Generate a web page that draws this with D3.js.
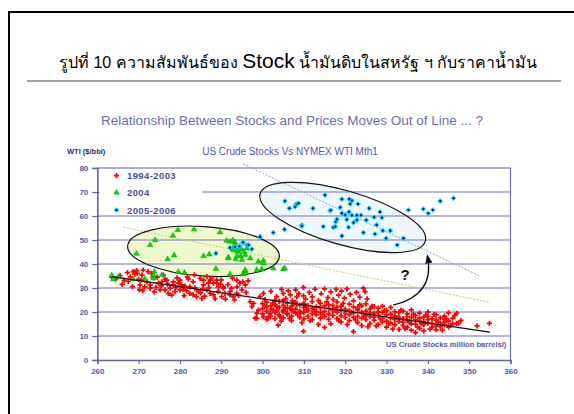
<!DOCTYPE html>
<html>
<head>
<meta charset="utf-8">
<script src="https://cdn.jsdelivr.net/npm/d3@7"></script>
<style>
  body { margin: 0; background: #fff; }
  svg { display: block; }
</style>
</head>
<body>
<script>
// WTI price vs US crude stocks
const red9403 = [
  [263.5,34.5],[264.5,33.8],[265.5,35.2],[266,31.5],[266.5,33.2],[267.3,36.4],[267.5,32.8],[268,34.6],[268.5,30.6],
  [268.7,36.8],[269.1,35.8],[269.5,37.2],[269.7,36.1],[270,33.6],[270.2,29.2],[270.3,31.3],[270.7,33.3],[270.8,35.4],
  [271,28.9],[271.1,37.5],[271.5,30.5],[272,32.6],[272.3,36.8],[272.8,31.3],[272.8,29.9],[273.1,36.1],[273.5,34.3],
  [273.8,28.4],[274.2,30.3],[274.8,32],[275.2,29.2],[275.5,30.9],[275.6,32.6],[276.4,33.6],[276.4,29.2],[276.8,33.3],
  [277,31.6],[277.2,27.8],[277.6,29.9],[278,27],[278.4,31.3],[278.4,32.6],[278.8,28.5],[279,30.2],[279.6,32],[280,29.2],
  [280,33.3],[280.4,31.3],[280.8,29.4],[281,26.8],[281.2,30.8],[281.6,28.8],[282,33.8],[282.4,27.8],[282.4,30.5],
  [283.2,32.6],[283.2,27.1],[283.6,30.1],[284,26.4],[284.1,29.2],[284.5,28.5],[284.9,34],[285,28],[285.3,25.7],
  [285.7,33.3],[285.7,31.3],[286,26.6],[286.5,34.7],[286.5,29.2],[286.9,32],[287.3,27.8],[287.3,33.3],[287.7,34],
  [288.1,32],[288.1,27.1],[288.5,25.6],[288.9,33.3],[288.9,32],[289.3,30.5],[289.3,28.5],[289.8,31.6],[290.1,26.4],
  [290.5,29.9],[290.5,30.5],[290.9,27.8],[291,25.4],[291.6,31.4],[292.1,27.1],[292.1,28.5],[292.5,29.9],[292.9,26.4],
  [293.2,25],[293.75,33.3],[293.75,27.8],[293.8,30.5],[294.2,26.9],[294.5,32],[295,29.2],[295.2,32.6],[295.8,31.3],
  [296,28.2],[296.5,33],[297,24.3],[297.4,22.2],[297.8,23.6],[298.2,17.4],[298.6,19.4],[298.6,17.4],[299,20.8],
  [299.4,26.4],[300.2,18],[300.2,27.8],[300.6,25.2],[301,22.2],[301.4,17.4],[301.8,19.4],[302,28.6],[302.6,20.8],
  [303,24.8],[303.4,22.2],[303.4,26.4],[303.8,14.5],[304.2,18],[304.6,29.4],[305,20.8],[305,27.8],[305.6,25.6],
  [305.9,19.4],[306.2,28.8],[306.7,27.1],[306.7,21.5],[307.2,24.6],[307.5,20.1],[308,29.2],[308.3,23],[308.3,26.4],
  [308.8,27.7],[309.1,19.4],[309.9,23.6],[309.9,26.7],[309.9,30.3],[309.9,11.9],[310.4,25.4],[310.7,21],[311.3,28.2],
  [312,26.3],[312.7,29.5],[313.5,24.7],[314.2,27.6],[315,29.6],[315,13.6],[315.8,26],[316.5,28.4],[317.1,25.2],
  [317.8,29.4],[318.4,27],[319.1,28.7],[319.8,25.8],[320.4,29.6],[321.2,27.4],[322,24.6],[322.7,28.2],[323.5,26.2],
  [324.4,29.9],[324.8,28.5],[325.3,25.5],
  [300,21.4],[300,19.2],[300,23.5],[301,24.1],[301,20.3],[301,16.9],[302,22.6],[302,18.4],[302,21.1],
  [303,19.7],[303,23.2],[303,17.2],[304,21.9],[304,24.4],[304,18.8],[305,22.8],[305,17.6],[305,20.1],[305,24.9],
  [306,19.1],[306,21.6],[306,23.7],[307,18.3],[307,22.4],[307,20.8],[307,16.4],[308,21.2],[308,19.6],[308,24.1],
  [309,17.8],[309,22.9],[309,20.4],[310,23.4],[310,19.8],[310,17.1],[310,21.9],[311,20.6],[311,18.2],[311,22.7],
  [312,24.3],[312,19.3],[312,21.5],[312,16.8],[313,18.9],[313,22.1],[313,20.2],[314,21.8],[314,17.4],[314,23.6],
  [314,19.7],[315,20.3],[315,22.6],[315,18.1],[316,16.9],[316,21.4],[316,19.2],[316,23.1],[317,22.8],[317,18.6],
  [317,20.7],[318,19.9],[318,17.2],[318,21.9],[318,24.2],[319,18.4],[319,20.8],[319,22.4],[319,15.9],[320,21.1],
  [320,19.3],[320,17.7],[321,23.3],[321,18.9],[321,20.6],[321,16.4],[322,19.6],[322,22.1],[322,11.8],[322,17.8],
  [323,20.9],[323,18.2],[323,15.6],[323,21.7],[324,17.4],[324,19.9],[324,22.6],[324,14.3],[325,20.4],[325,16.8],
  [325,18.7],[325,23.4],[326,18.1],[326,21.3],[326,15.2],[326,19.6],[327,16.6],[327,19.4],[327,22.2],[327,17.9],
  [328,20.1],[328,14.8],[328,18.6],[328,21.6],[329,17.3],[329,19.8],[329,15.9],[329,22.4],[330,18.8],[330,16.2],
  [330,20.7],[330,13.7],[331,15.4],[331,19.1],[331,17.6],[331,21.9],[332,18.3],[332,14.6],[332,20.2],[332,16.9],
  [333,16.1],[333,19.7],[333,12.8],[333,17.8],[334,17.2],[334,14.4],[334,20.4],[334,15.8],[335,19.2],[335,16.5],
  [335,13.6],[335,18.1],[336,15.1],[336,17.7],[336,20.9],[336,12.4],[337,18.6],[337,14.9],[337,16.8],[337,11.4],
  [338,16.3],[338,19.5],[338,13.2],[338,17.4],[339,14.7],[339,17.9],[339,12.1],[339,15.9],[340,18.2],[340,15.4],
  [340,16.8],[340,20.1],[341,13.6],[341,17.1],[341,15.2],[342,16.6],[342,14.1],[342,18.8],[342,12.6],[343,15.3],
  [343,17.6],[343,13.9],[344,16.9],[344,14.6],[344,18.3],[344,15.8],[345,13.7],[345,16.2],[345,19.6],[346,17.4],
  [346,15.1],[347,15.3],[347,19.4],[347.4,15.3],[348,16.4],[351.9,14.2],[354.9,15.3],
  [300.5,22.7],[301.5,18.1],[302.5,23.9],[303.5,20.5],[304.5,16.2],[305.5,21.7],[306.5,17.3],[307.5,23.3],
  [308.5,18.9],[309.5,15.6],[310.5,22.4],[311.5,16.4],[312.5,20.9],[313.5,14.8],[314.5,18.8],[315.5,24.2],
  [316.5,15.1],[317.5,21.2],[318.5,16.4],[319.5,23.6],[320.5,14.7],[321.5,19.9],[322.5,16.7],[323.5,23],
  [324.5,18.3],[325.5,13.9],[326.5,22.4],[327.5,14.2],[328.5,17.1],[329.5,20.6],[330.5,15.3],[331.5,12.9],
  [332.5,17.6],[333.5,20.8],[334.5,13.1],[335.5,15.9],[336.5,19.1],[337.5,13.7],[338.5,15.1],[339.5,18.8],
  [340.5,12.9],[341.5,19],[342.5,15.8],[343.5,12.4],[344.5,17.2],[345.5,14.4],[346.5,18.6],[283.5,35.5],
  [281.8,34.6],[279.3,34.2],[276,35.4],[274.5,34.5],[290,33.4],[292.7,34.1],[287,30.2],[285.5,29.6]
];

const green04 = [
  [263.5,35.3],[263.9,33.6],[265.1,34.6],[268.7,33.6],[269.5,44.3],[271.5,33.8],[272.8,47.9],[273.6,35.4],[273.6,34],
  [273.8,36.8],[274,50],[275.6,35.4],[277,42],[278.3,51.8],[278.6,43.6],[279.5,54.2],[279.6,36.7],[281.1,36.4],
  [283.4,54.4],[285.7,43.3],[287.1,44],[288.7,38],[289.7,53.2],[291.3,49.7],[291.7,42.8],[291.7,42.4],[292.1,35.7],
  [292.1,49.3],[292.8,49.9],[292.8,46.2],[293,45.8],[293.3,49],[293.3,47.9],[293.5,42],[293.8,45.6],[293.8,43.3],
  [294.1,45.1],[294.4,47.2],[294.7,43.3],[294.9,46.1],[295,41.7],[295.3,35.7],[295.4,36.1],[295.5,45.1],[295.8,43.8],
  [295.8,36.8],[295.8,37.5],[296.2,46.5],[297,42.4],[298.6,37.5],[299,41],[299.8,37.8],[300.2,41.4],[300.2,40.3],
  [302.6,38.2],[305,37.8],[305.4,38.2]
];

const blue0506 = [
  [288.7,44.4],[292.1,46.8],[293.3,47],[294.3,47.2],[294.4,47.4],[295.2,48.9],[295.3,49],[296.2,47.9],[296.6,47.9],
  [297.4,46.2],[299.4,51.4],[302.6,53.1],[305.3,54.4],[305.4,66.2],[306.5,63.2],[307.9,63.9],[308.1,64.9],[308.3,65],
  [308.7,65.3],[309.5,56.2],[309.5,55.8],[312.2,63.2],[314.7,55.6],[315.1,68.7],[316.3,62.2],[316.5,62.4],[317.1,55.3],
  [317.6,55.6],[317.7,57.6],[318,58.6],[318.8,63.6],[319.2,67],[319.2,61.1],[319.2,51.7],[320,60.4],[320.4,58.5],
  [320.8,55.3],[320.9,61.7],[321,67],[321.2,65],[321.6,66.4],[321.6,60.3],[322,57.2],[322.8,60.3],[322.8,58.3],
  [323.1,65],[323.8,60.3],[324.4,53.1],[325.1,58.3],[325.8,63.2],[327,59.5],[327.2,52.5],[327.6,56.3],[328.4,61.7],
  [328.9,59.3],[329.1,53.9],[329.9,50.7],[330.9,53.9],[332.6,47.9],[334.1,50.7],[335.3,62.5],[338.9,62.9],[340.1,61.1],
  [341.2,62.5],[343,66.2],[346.2,67.4]
];

// straight guide lines (two end points each)
const trendLine = [[263.5, 34.7], [355, 11.6]];
const blueGuide = [[295.3, 81.7], [352.3, 35.2]];
const greenGuide = [[266.3, 55.3], [355, 24]];

const xTicks = [260, 270, 280, 290, 300, 310, 320, 330, 340, 350, 360];
const yTicks = [0, 10, 20, 30, 40, 50, 60, 70, 80];
const gridLevels = [10, 20, 30, 40, 50, 60, 70];
const seriesNames = ['1994-2003', '2004', '2005-2006'];

const W = 574, H = 414;
const svg = d3.select('body').append('svg')
    .attr('width', W)
    .attr('height', H)
    .style('font-family', '"Liberation Sans", Arial, sans-serif');

// page frame
svg.append('rect')
    .attr('x', 9).attr('y', 12)
    .attr('width', 700).attr('height', 600)
    .attr('fill', 'none')
    .attr('stroke', '#000')
    .attr('stroke-width', 2);

// Thai page caption
const cap = svg.append('text')
    .attr('x', 298).attr('y', 68)
    .attr('text-anchor', 'middle')
    .attr('fill', '#000')
    .style('font-family', '"Liberation Sans", "Noto Sans", sans-serif');
cap.append('tspan').attr('font-size', 16).text('รูปที่ 10 ความสัมพันธ์ของ ');
cap.append('tspan').attr('font-size', 21).text('Stock');
cap.append('tspan').attr('font-size', 16).text(' น้ำมันดิบในสหรัฐ ฯ กับราคาน้ำมัน');

svg.append('line')
    .attr('x1', 27).attr('x2', 561)
    .attr('y1', 81).attr('y2', 81)
    .attr('stroke', '#444')
    .attr('stroke-width', 1.2);

svg.append('text')
    .attr('x', 292).attr('y', 125)
    .attr('text-anchor', 'middle')
    .attr('font-size', 13.5)
    .attr('fill', '#6c6cae')
    .text('Relationship Between Stocks and Prices Moves Out of Line ... ?');

svg.append('text')
    .attr('x', 67).attr('y', 154)
    .attr('font-size', 7.5)
    .attr('font-weight', 'bold')
    .attr('fill', '#2a2a8a')
    .text('WTI ($/bbl)');

svg.append('text')
    .attr('x', 290).attr('y', 155)
    .attr('text-anchor', 'middle')
    .attr('font-size', 10)
    .attr('fill', '#5252b8')
    .text('US Crude Stocks Vs NYMEX WTI Mth1');

// scales
const x = d3.scaleLinear().domain([260, 360]).range([97.3, 510.5]);
const y = d3.scaleLinear().domain([0, 80]).range([360, 168]);

const plot = svg.append('g');

// ellipses (data-space centre, radii in axis units)
const ellipses = [
  {cx: 285.7, cy: 45.3, rx: 18.4, ry: 10.3, angle: 4, fill: '#eff8cc'},
  {cx: 319.4, cy: 59.4, rx: 20.8, ry: 11.25, angle: 16, fill: '#eef7fc'}
];
function ellipseSel(g) {
  g.attr('cx', d => x(d.cx)).attr('cy', d => y(d.cy))
   .attr('rx', d => x(d.cx + d.rx) - x(d.cx))
   .attr('ry', d => y(d.cy) - y(d.cy + d.ry))
   .attr('transform', d => 'rotate(' + d.angle + ',' + x(d.cx) + ',' + y(d.cy) + ')');
}
plot.selectAll('.ell-fill')
    .data(ellipses)
    .enter().append('ellipse')
    .attr('class', 'ell-fill')
    .call(ellipseSel)
    .attr('fill', d => d.fill);

// grid lines
plot.selectAll('.grid')
    .data(gridLevels)
    .enter().append('line')
    .attr('class', 'grid')
    .attr('x1', d => d === 70 ? x(285.4) : x(260))
    .attr('x2', x(360))
    .attr('y1', d => y(d)).attr('y2', d => y(d))
    .attr('stroke', '#9c9cd4')
    .attr('stroke-width', 1.6);

// plot border top/right
plot.append('path')
    .attr('d', 'M' + x(260) + ',' + y(80) + 'H' + x(360) + 'V' + y(0))
    .attr('fill', 'none')
    .attr('stroke', '#5a5aa8')
    .attr('stroke-width', 1);

// axes
const axisColor = '#6262b4';
const xAxis = d3.axisBottom(x).tickValues(xTicks).tickSize(4).tickPadding(4);
const yAxis = d3.axisLeft(y).tickValues(yTicks).tickSize(5).tickPadding(4);

plot.append('g')
    .attr('transform', 'translate(0,' + y(0) + ')')
    .call(xAxis)
    .call(g => g.select('.domain').attr('stroke', axisColor).attr('stroke-width', 1.6))
    .call(g => g.selectAll('line').attr('stroke', axisColor).attr('stroke-width', 1.2))
    .call(g => g.selectAll('text')
        .attr('fill', '#5656ac')
        .attr('font-size', 8)
        .attr('font-weight', 'bold')
        .style('font-family', '"Liberation Sans", Arial, sans-serif'));

plot.append('g')
    .attr('transform', 'translate(' + x(260) + ',0)')
    .call(yAxis)
    .call(g => g.select('.domain').attr('stroke', axisColor).attr('stroke-width', 1.6))
    .call(g => g.selectAll('line').attr('stroke', axisColor).attr('stroke-width', 1.2).attr('x2', -5).attr('x1', 2))
    .call(g => g.selectAll('text')
        .attr('fill', '#5656ac')
        .attr('font-size', 8)
        .attr('font-weight', 'bold')
        .style('font-family', '"Liberation Sans", Arial, sans-serif'));

plot.append('text')
    .attr('x', x(359)).attr('y', y(5.6))
    .attr('text-anchor', 'end')
    .attr('font-size', 7.6)
    .attr('font-weight', 'bold')
    .attr('fill', '#5656ac')
    .text('US Crude Stocks million barrelsl)');

// dotted guide lines
const line = d3.line().x(d => x(d[0])).y(d => y(d[1]));
plot.append('path')
    .attr('d', line(greenGuide))
    .attr('fill', 'none')
    .attr('stroke', '#b5d65a')
    .attr('stroke-width', 1)
    .attr('stroke-dasharray', '2,1.5');
plot.append('path')
    .attr('d', line(blueGuide))
    .attr('fill', 'none')
    .attr('stroke', '#7e9cf4')
    .attr('stroke-width', 1)
    .attr('stroke-dasharray', '2,1.5');

// ellipse outlines
plot.selectAll('.ell-line')
    .data(ellipses)
    .enter().append('ellipse')
    .attr('class', 'ell-line')
    .call(ellipseSel)
    .attr('fill', 'none')
    .attr('stroke', '#111')
    .attr('stroke-width', 1.2);

// markers
const redSym = d3.symbol().type(d3.symbolCross).size(15);
const greenSym = d3.symbol().type(d3.symbolTriangle).size(14);
const blueSym = d3.symbol().type(d3.symbolSquare).size(16);

function drawRed(g, data) {
  g.selectAll('.r').data(data).enter().append('path')
      .attr('class', 'r')
      .attr('d', redSym)
      .attr('transform', d => 'translate(' + x(d[0]) + ',' + y(d[1]) + ')')
      .attr('fill', '#ff0000');
}
function drawGreen(g, data) {
  g.selectAll('.g').data(data).enter().append('path')
      .attr('class', 'g')
      .attr('d', greenSym)
      .attr('transform', d => 'translate(' + x(d[0]) + ',' + y(d[1]) + ')')
      .attr('fill', '#00dd00')
      .attr('stroke', '#009000')
      .attr('stroke-width', 0.4);
}
function drawBlue(g, data) {
  const m = g.selectAll('.b').data(data).enter().append('g')
      .attr('class', 'b')
      .attr('transform', d => 'translate(' + x(d[0]) + ',' + y(d[1]) + ')');
  m.append('path').attr('d', blueSym).attr('transform', 'rotate(45)').attr('fill', '#00c8ff');
  m.append('circle').attr('r', 1.1).attr('fill', '#000080');
}

drawRed(plot.append('g'), red9403);
drawGreen(plot.append('g'), green04);
drawBlue(plot.append('g'), blue0506);

// trend line over the 1994-2003 cloud
plot.append('path')
    .attr('d', line(trendLine))
    .attr('fill', 'none')
    .attr('stroke', '#111')
    .attr('stroke-width', 1.3);

// curved arrow and question mark
svg.append('defs').append('marker')
    .attr('id', 'head')
    .attr('viewBox', '0 0 10 10')
    .attr('refX', 8).attr('refY', 5)
    .attr('markerWidth', 7).attr('markerHeight', 7)
    .attr('orient', 'auto')
    .append('path')
    .attr('d', 'M0,1 L10,5 L0,9 Z')
    .attr('fill', '#111');

const arrowPts = [[331.6, 22.9], [341.8, 27.1], [339.9, 43.3]];
plot.append('path')
    .attr('d', 'M' + x(arrowPts[0][0]) + ',' + y(arrowPts[0][1]) +
               'Q' + x(arrowPts[1][0]) + ',' + y(arrowPts[1][1]) + ' ' +
               x(arrowPts[2][0]) + ',' + y(arrowPts[2][1]))
    .attr('fill', 'none')
    .attr('stroke', '#111')
    .attr('stroke-width', 1.3)
    .attr('marker-end', 'url(#head)');

plot.append('text')
    .attr('x', x(334.5)).attr('y', y(33.4))
    .attr('text-anchor', 'middle')
    .attr('font-size', 15)
    .attr('font-weight', 'bold')
    .attr('fill', '#111')
    .text('?');

// legend
const legend = svg.append('g');
const legY = [175.7, 192.5, 210];
drawRed(legend, [[x.invert(116.5), y.invert(legY[0])]]);
drawGreen(legend, [[x.invert(116.5), y.invert(legY[1])]]);
drawBlue(legend, [[x.invert(116.5), y.invert(legY[2])]]);
legend.selectAll('text')
    .data(seriesNames)
    .enter().append('text')
    .attr('x', 127)
    .attr('y', (d, i) => legY[i] + 3.5)
    .attr('font-size', 9.5)
    .attr('font-weight', 'bold')
    .attr('letter-spacing', 0.4)
    .attr('fill', '#4c4ca6')
    .text(d => d);
</script>
</body>
</html>
